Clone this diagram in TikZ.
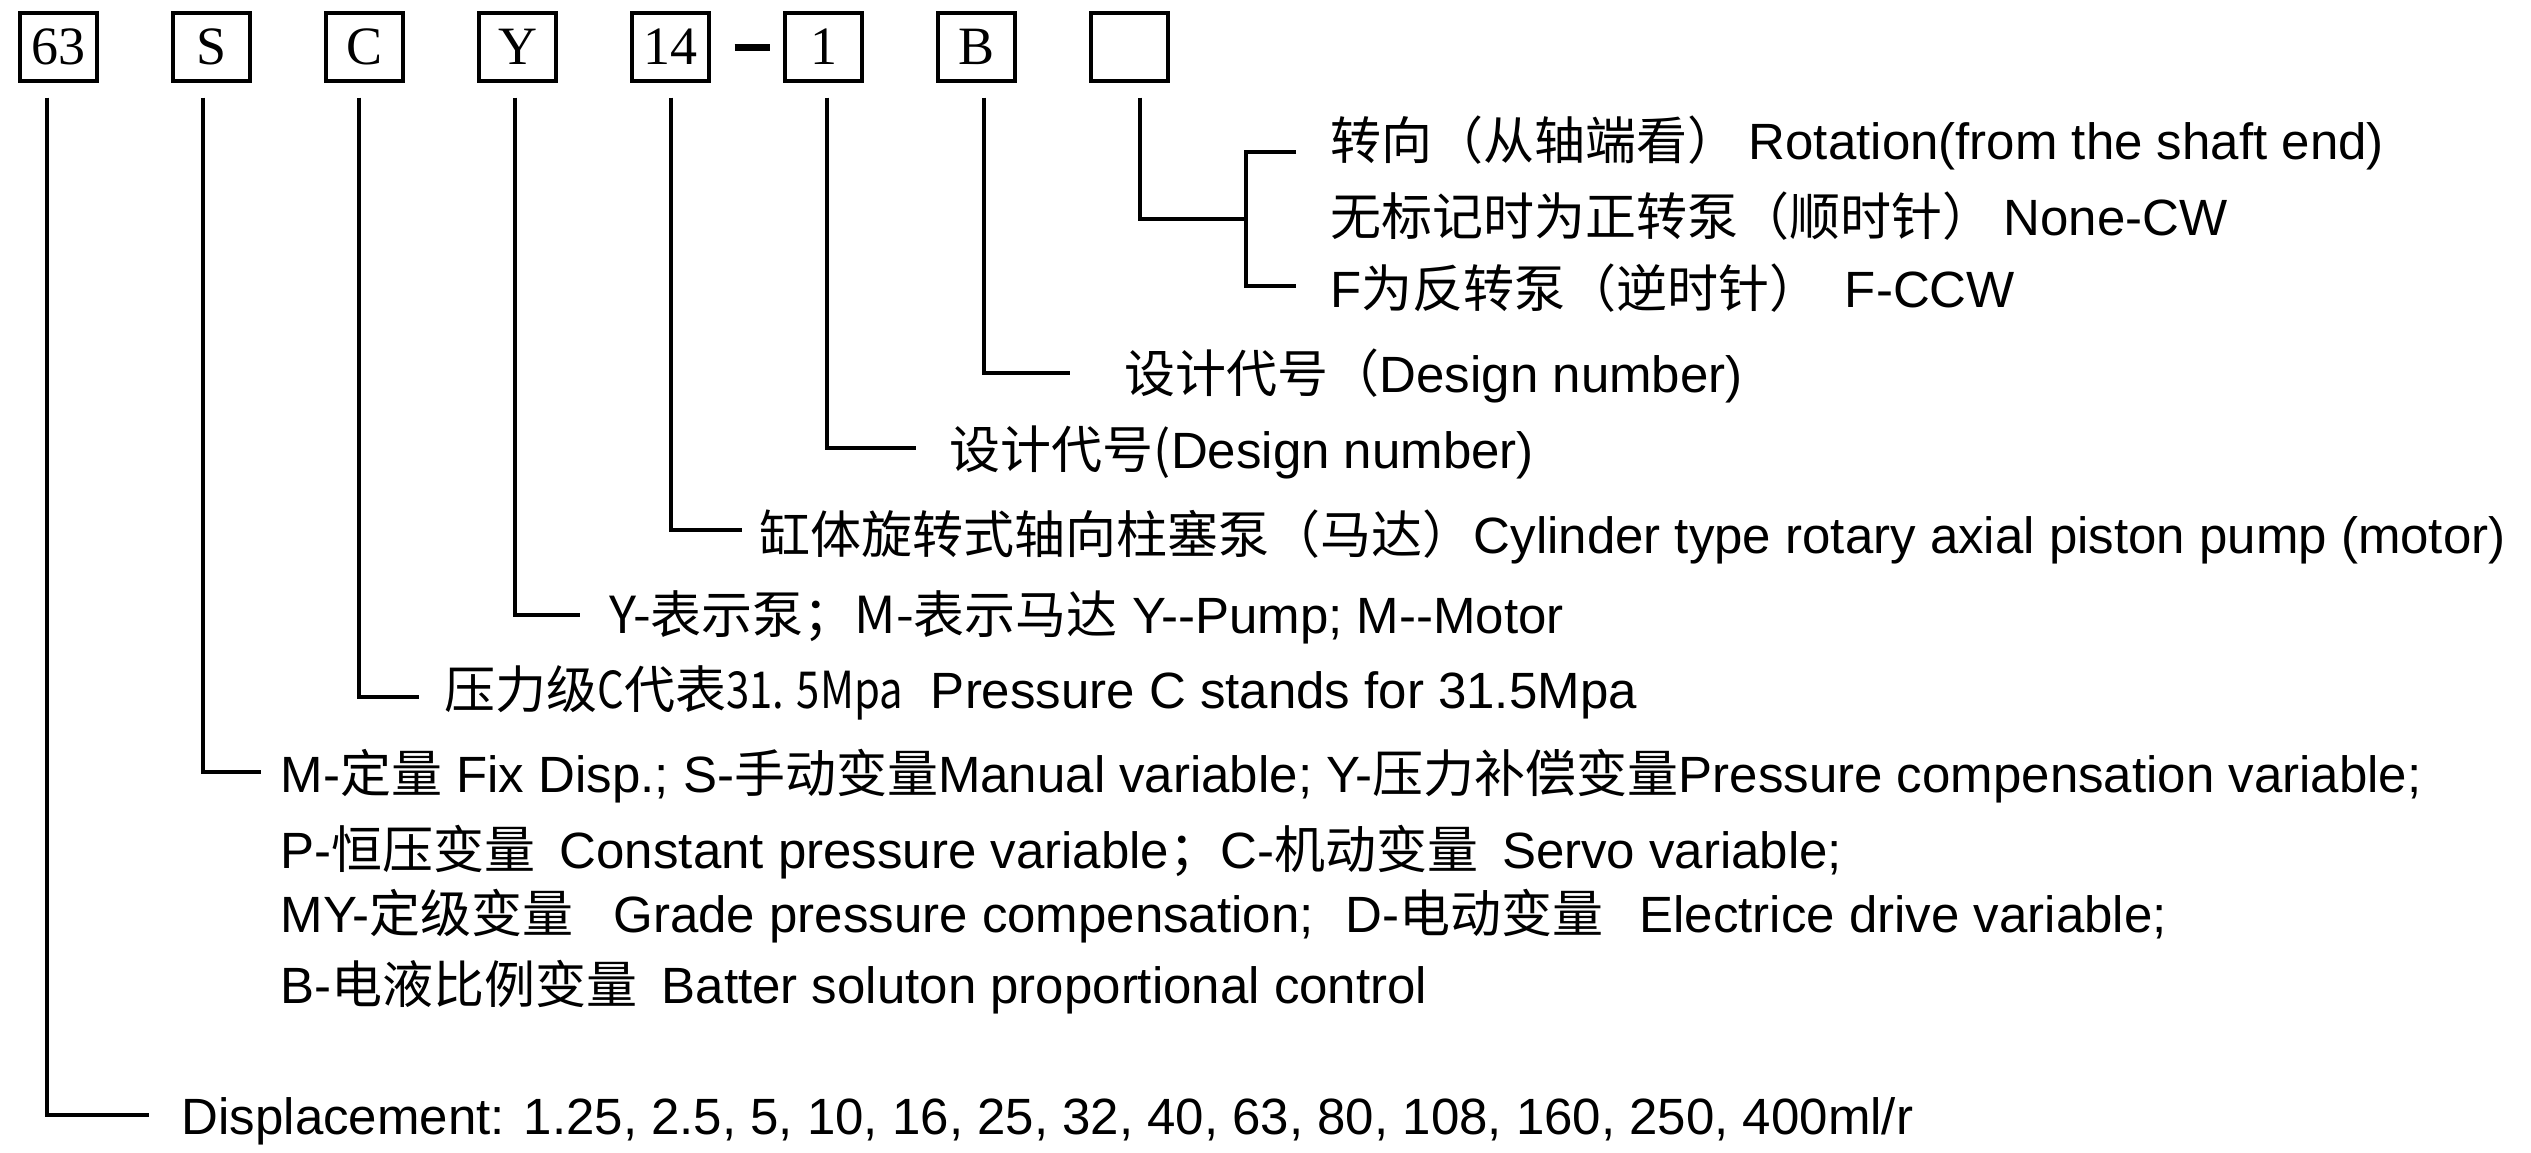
\documentclass[tikz,border=0pt]{standalone}
\usepackage{fontspec}
\setmainfont{Liberation Sans}
\newfontfamily\cjk{Noto Sans CJK SC}
\newfontfamily\cjknarrow{Noto Sans CJK SC}[FakeStretch=0.82]
\newfontfamily\serifnum{Liberation Serif}
\usetikzlibrary{calc}
\newcommand{\zh}[1]{{\cjk #1}}
\newcommand{\zhn}[1]{{\cjknarrow #1}}
\begin{document}
\begin{tikzpicture}[x=0.25pt,y=-0.25pt,
  codebox/.style={draw, line width=0.8pt, minimum width=19.25pt, minimum height=17pt, inner sep=0pt,
    font=\serifnum\fontsize{13.5pt}{13.5pt}\selectfont},
  conn/.style={line width=1pt},
  lbl/.style={anchor=base west, inner sep=0pt, font=\fontsize{12.75pt}{15pt}\selectfont}]
\useasboundingbox (0,0) rectangle (2531,1153);
\fill[white] (0,0) rectangle (2531,1153);

% code boxes
\node[codebox] (b63) at (58.5,47) {63};
\node[codebox] (bS) at (211.5,47) {S};
\node[codebox] (bC) at (364.5,47) {C};
\node[codebox] (bY) at (517.5,47) {Y};
\node[codebox] (b14) at (670.5,47) {14};
\node[inner sep=0pt] (dash) at (752,48) {\rule{8.75pt}{1.75pt}};
\node[codebox] (b1) at (823.5,47) {1};
\node[codebox] (bB) at (976.5,47) {B};
\node[codebox] (bE) at (1129.5,47) {};

% labels
\node[lbl] (t1) at (1330,160) {\zh{转向（从轴端看）}\hspace{2.5pt}Rotation(from the shaft end)};
\node[lbl] (t2) at (1330,236) {\zh{无标记时为正转泵（顺时针）}\hspace{2.5pt}None-CW};
\node[lbl] (t3) at (1330,308) {F\zh{为反转泵（逆时针）}\hspace{6pt}F-CCW};
\node[lbl] (t4) at (1124,393) {\zh{设计代号（}Design number)};
\node[lbl] (t5) at (949,469) {\zh{设计代号(}Design number)};
\node[lbl] (t6) at (759,554) {\zh{缸体旋转式轴向柱塞泵（马达）}Cylinder type rotary axial piston pump (motor)};
\node[lbl] (t7) at (609,634) {\zh{Y-表示泵；M-表示马达} Y-{}-Pump; M-{}-Motor};
\node[lbl] (t8) at (444,709) {\zh{压力级}\zhn{C}\zh{代表}\zhn{31. 5Mpa}\hspace{7pt}Pressure C stands for 31.5Mpa};
\node[lbl] (t9) at (280,793) {M-\zh{定量} Fix Disp.; S-\zh{手动变量}Manual variable; Y-\zh{压力补偿变量}Pressure compensation variable;};
\node[lbl] (t10) at (280,869) {P-\zh{恒压变量}\hspace{6pt}Constant pressure variable\zh{；}C-\zh{机动变量}\hspace{6pt}Servo variable;};
\node[lbl] (t11) at (280,933) {MY-\zh{定级变量}\hspace{10pt}Grade pressure compensation;\hspace{8pt}D-\zh{电动变量}\hspace{9pt}Electrice drive variable;};
\node[lbl] (t12) at (280,1004) {B-\zh{电液比例变量}\hspace{6pt}Batter soluton proportional control};
\node[lbl] (t13) at (181,1135) {Displacement: 1.25, 2.5, 5, 10, 16, 25, 32, 40, 63, 80, 108, 160, 250, 400ml/r};

% connector ends
\coordinate (e63) at (149,1115);
\coordinate (eS) at (261,772);
\coordinate (eC) at (419,697);
\coordinate (eY) at (580,615);
\coordinate (e14) at (742,530);
\coordinate (e1) at (916,448);
\coordinate (eB) at (1070,373);
\coordinate (eE) at (1246,219);
\coordinate (ta) at (1296,152);
\coordinate (tb) at (1296,286);

\draw[conn] ($(b63.south)+(-11.5,15)$) |- (e63);
\draw[conn] ($(bS.south)+(-8.5,15)$) |- (eS);
\draw[conn] ($(bC.south)+(-5.5,15)$) |- (eC);
\draw[conn] ($(bY.south)+(-2.5,15)$) |- (eY);
\draw[conn] ($(b14.south)+(0.5,15)$) |- (e14);
\draw[conn] ($(b1.south)+(3.5,15)$) |- (e1);
\draw[conn] ($(bB.south)+(7.5,15)$) |- (eB);
\draw[conn] ($(bE.south)+(10.5,15)$) |- (eE);
\draw[conn] (ta) -| (eE) |- (tb);
\end{tikzpicture}
\end{document}
